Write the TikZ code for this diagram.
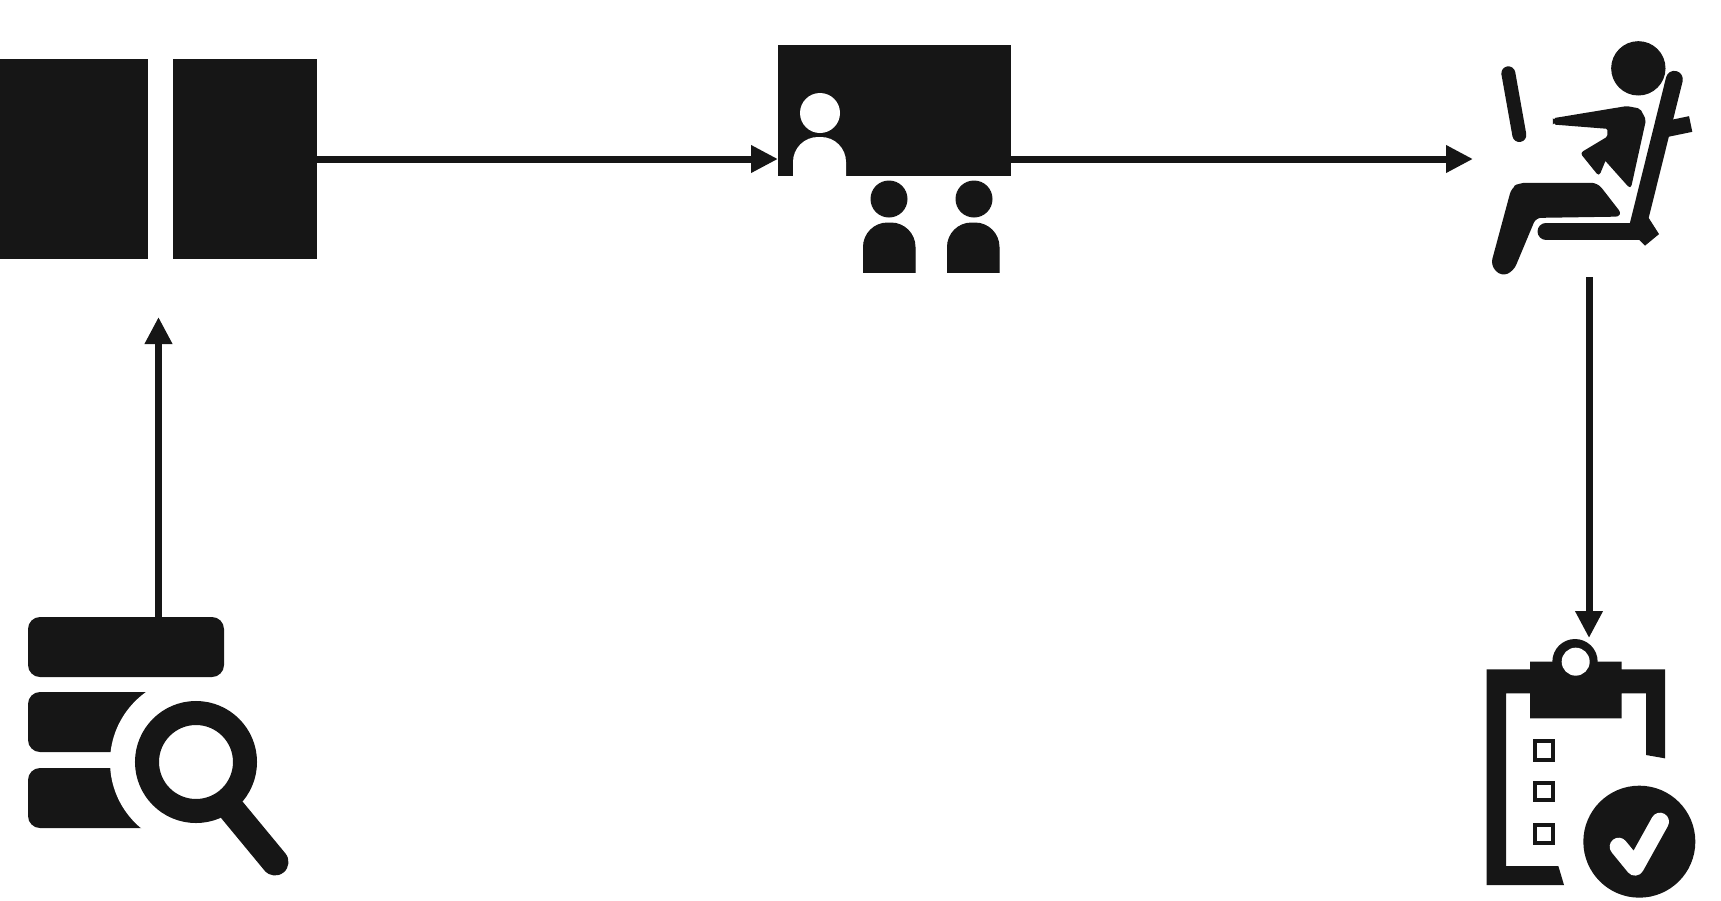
\documentclass[tikz,border=0pt]{standalone}
\usetikzlibrary{arrows.meta}
\definecolor{iconblack}{HTML}{161616}
\tikzset{
  blackbox/.style={fill=iconblack,inner sep=0pt,outer sep=0pt,anchor=north west},
  dbbar/.style={blackbox,rounded corners=12pt,minimum height=60pt},
  flowarrow/.style={draw=iconblack,line width=7pt,-{Triangle[length=27pt,width=26pt]}},
  icon/.style={fill=iconblack,draw=iconblack,line width=1pt},
  boldicon/.style={fill=iconblack,draw=iconblack,line width=2.5pt}
}
\begin{document}
\begin{tikzpicture}[x=1pt,y=-1pt]
\useasboundingbox (0,0) rectangle (1721,900);

\node[blackbox,minimum width=148pt,minimum height=200pt] (pageleft) at (0,59) {};
\node[blackbox,minimum width=144pt,minimum height=200pt] (pageright) at (172.5,59) {};

\node[blackbox,minimum width=233pt,minimum height=131.5pt] (board) at (778,44.5) {};
\fill[white] (820,113) circle [radius=20];
\fill[white,rounded corners=25pt] (793,230) -- (793,137) -- (846,137) -- (846,230) -- cycle;
\fill[white] (780,176) rectangle (860,235);

\fill[icon] (889,199) circle [radius=18];
\fill[icon,rounded corners=24pt] (863.5,330) -- (863.5,223) -- (915,223) -- (915,330) -- cycle;
\fill[white] (855,272.5) rectangle (925,335);
\fill[icon] (974,199) circle [radius=18];
\fill[icon,rounded corners=24pt] (947.5,330) -- (947.5,223) -- (999,223) -- (999,330) -- cycle;
\fill[white] (940,272.5) rectangle (1010,335);

\node[dbbar,minimum width=196pt] (dbmid) at (28,692) {};
\node[dbbar,minimum width=196pt] (dbbottom) at (28,768) {};
\fill[white] (196,762) circle [radius=86];
\fill[white] (130,840) rectangle (240,890);
\fill[white] (150,670) rectangle (240,692);
\node[dbbar,minimum width=196pt] (dbtop) at (28,617) {};
\draw[iconblack,line width=24pt] (196,762) circle [radius=49];
\draw[iconblack,line width=27pt,line cap=round] (232,810) -- (275,862);

\begin{scope}[shift={(1440,20)},x=0.33333pt,y=-0.33333pt]
\fill[icon] (595,145) circle [radius=80];
\draw[iconblack,line width=14pt,line cap=round] (205,160) -- (238,345);
\fill[boldicon,rounded corners=2pt] (342,298) -- (560,262) -- (598,269) -- (614,300) -- (570,500)
  -- (495,416) -- (476,462) -- (426,400) -- (506,352) -- (506,323) -- (342,310) -- cycle;
\fill[boldicon,rounded corners=6pt] (240,492) -- (471,492) -- (544,586) -- (285,590)
  -- (218,750) -- (185,765) -- (156,735) -- (218,505) -- cycle;
\draw[iconblack,line width=17pt,line cap=round] (703,178) -- (592,625);
\draw[iconblack,line width=16pt] (665,330) -- (752,312);
\draw[iconblack,line width=17pt,line cap=round] (318,634) -- (600,634);
\fill[icon] (590,600) -- (625,595) -- (655,642) -- (615,675) -- (590,650) -- cycle;
\end{scope}

\begin{scope}[shift={(1440,620)},x=0.33333pt,y=-0.33333pt]
\fill[iconblack] (140,148) -- (270,148) -- (270,125) -- (545,125) -- (545,148) -- (675,148) -- (675,415)
  -- (618,405) -- (618,220) -- (545,220) -- (545,295) -- (270,295) -- (270,220) -- (198,220)
  -- (198,738) -- (355,738) -- (372,795) -- (140,795) -- cycle;
\fill[iconblack] (405,125) circle [radius=68];
\fill[white] (407,125) circle [radius=42];
\draw[iconblack,line width=4pt,fill=white] (286,364) rectangle (340,420);
\draw[iconblack,line width=4pt,fill=white] (286,488) rectangle (340,540);
\draw[iconblack,line width=4pt,fill=white] (286,616) rectangle (340,668);
\fill[iconblack] (598,665) circle [radius=168];
\draw[white,line width=18pt,line cap=round,line join=round] (536,680) -- (585,740) -- (660,605);
\end{scope}

\coordinate (dbstart) at (158.5,617);
\coordinate (pagesend) at (158.5,317);
\coordinate (seatend) at (1473,159);
\coordinate (seatstart) at (1589,277);
\coordinate (clipend) at (1589,638);

\draw[flowarrow] (dbstart) -- (pagesend);
\draw[flowarrow] (pageright.east) -- (pageright.east -| board.west);
\draw[flowarrow] (pageright.east -| board.east) -- (seatend);
\draw[flowarrow] (seatstart) -- (clipend);
\end{tikzpicture}
\end{document}
